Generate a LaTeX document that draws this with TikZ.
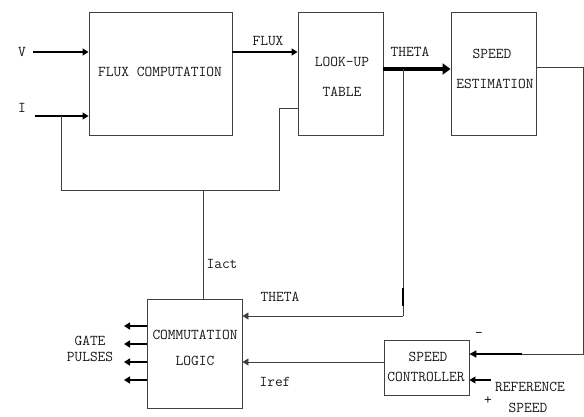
\documentclass[tikz,border=0pt]{standalone}
\usetikzlibrary{arrows.meta}
\begin{document}
\begin{tikzpicture}[x=1pt,y=-1pt,
  box/.style={draw=black!75,line width=0.9pt,rectangle,inner sep=0pt},
  lbl/.style={font=\ttfamily\fontsize{15}{17}\selectfont,inner sep=0pt,text=black!90},
  wire/.style={draw=black!75,line width=0.9pt},
  arr/.style={wire,-{Triangle[length=6pt,width=7pt]}},
  barr/.style={draw=black,line width=1.7pt,-{Triangle[length=6pt,width=7pt]}},
  bigarr/.style={draw=black,line width=4pt,-{Triangle[length=8pt,width=11pt]}}]
\useasboundingbox[fill=white] (0,0) rectangle (584,416);
% boxes
\node[box,minimum width=143,minimum height=123] (flux) at (160.5,73.5) {};
\node[box,minimum width=85,minimum height=123] (lut) at (340.5,73.5) {};
\node[box,minimum width=85,minimum height=123] (spe) at (493.5,73.5) {};
\node[box,minimum width=95,minimum height=109] (comm) at (194.5,353.5) {};
\node[box,minimum width=85,minimum height=55] (ctrl) at (426.5,367.5) {};
% box texts
\node[lbl] (tflux) at (160,72) {FLUX COMPUTATION};
\node[lbl] (tlut1) at (342,62) {LOOK-UP};
\node[lbl] (tlut2) at (342,92) {TABLE};
\node[lbl] (tspe1) at (492,54) {SPEED};
\node[lbl] (tspe2) at (495,84) {ESTIMATION};
\node[lbl] (tcom1) at (195,335) {COMMUTATION};
\node[lbl] (tcom2) at (195,361) {LOGIC};
\node[lbl] (tctl1) at (428,357) {SPEED};
\node[lbl] (tctl2) at (426,377) {CONTROLLER};
% outside labels
\node[lbl] (lv) at (22,52) {V};
\node[lbl] (li) at (22,108) {I};
\node[lbl] (lflux) at (268,41) {FLUX};
\node[lbl] (ltheta) at (410,52) {THETA};
\node[lbl] (liact) at (222,264) {Iact};
\node[lbl] (ltheta2) at (280,297) {THETA};
\node[lbl] (liref) at (275,382) {Iref};
\node[lbl] (lgate) at (90,341) {GATE};
\node[lbl] (lpulse) at (90,357) {PULSES};
\node[lbl] (lminus) at (479,335) {-};
\node[lbl] (lplus) at (488,401) {+};
\node[lbl] (lref1) at (530,387) {REFERENCE};
\node[lbl] (lref2) at (528,408) {SPEED};
% coordinates
\coordinate (vin) at (33,52);
\coordinate (iin) at (35,116);
\coordinate (ib) at (61,116);
\coordinate (ib2) at (61,190);
\coordinate (ia) at (203,190);
\coordinate (ic) at (279,190);
\coordinate (id) at (279,108);
\coordinate (tb) at (403,69);
\coordinate (tb2) at (403,316);
\coordinate (so) at (583,67);
\coordinate (so2) at (583,354);
\coordinate (sthick) at (522,354);
\coordinate (rin) at (491,380);
% connectors
\draw[barr] (vin) -- (vin -| flux.west);
\draw[barr,line width=1.2pt] (iin) -- (iin -| flux.west);
\draw[wire] (ib) -- (ib2) -- (ic) -- (id) -- (id -| lut.west);
\draw[wire] (ia) -- (ia |- comm.north);
\draw[barr] (flux.east |- vin) -- (lut.west |- vin);
\draw[bigarr] (lut.east |- tb) -- (spe.west |- tb);
\draw[wire] (tb) -- (tb2);
\draw[line width=2pt] (403,288) -- (403,306);
\draw[arr] (tb2) -- (tb2 -| comm.east);
\draw[wire] (spe.east |- so) -- (so) -- (so2) -- (sthick);
\draw[draw=black,line width=2pt,-{Triangle[length=7pt,width=7pt]}] (sthick) -- (sthick -| ctrl.east);
\draw[barr,line width=1.2pt] (rin) -- (rin -| ctrl.east);
\draw[arr] (ctrl.west |- 0,362) -- (comm.east |- 0,362);
\foreach \yy/\nm in {326/g1,344/g2,362/g3,380/g4}{
  \coordinate (\nm) at (124,\yy);
  \draw[barr] (comm.west |- \nm) -- (\nm);
}
\end{tikzpicture}
\end{document}
